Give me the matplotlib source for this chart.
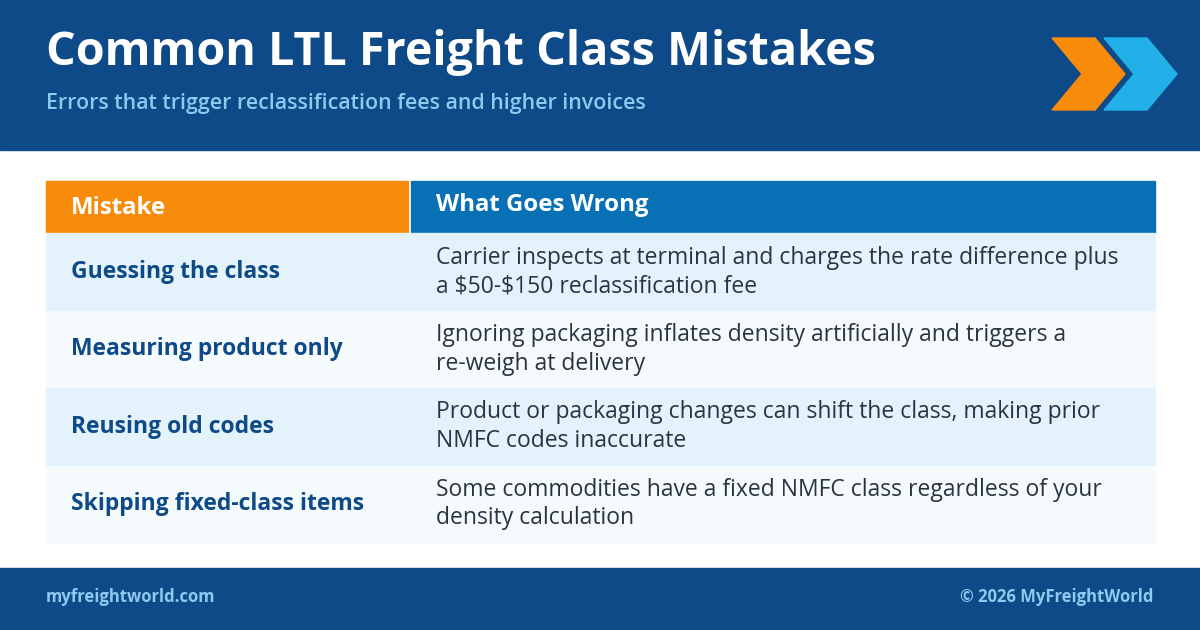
import matplotlib
matplotlib.use("Agg")
import matplotlib.pyplot as plt
from matplotlib.patches import Rectangle, Polygon

plt.rcParams["font.family"] = ["Open Sans", "DejaVu Sans"]
plt.rcParams["text.parse_math"] = False

title = "Common LTL Freight Class Mistakes"
subtitle = "Errors that trigger reclassification fees and higher invoices"
headers = ["Mistake", "What Goes Wrong"]
mistakes = ["Guessing the class", "Measuring product only",
            "Reusing old codes", "Skipping fixed-class items"]
problems = [
    "Carrier inspects at terminal and charges the rate difference plus\na $50-$150 reclassification fee",
    "Ignoring packaging inflates density artificially and triggers a\nre-weigh at delivery",
    "Product or packaging changes can shift the class, making prior\nNMFC codes inaccurate",
    "Some commodities have a fixed NMFC class regardless of your\ndensity calculation",
]
footer_left = "myfreightworld.com"
footer_right = "\u00a9 2026 MyFreightWorld"

NAVY = "#0E4A87"
ORANGE = "#F98B0B"
BLUE = "#0870B4"
SKY = "#22B0E8"
ROW_BG = ["#E3F2FB", "#F5FAFD"]
TXT_NAVY = "#0E4A87"
TXT = "#2A3440"

fig = plt.figure(figsize=(12, 6.3), dpi=100)
ax = fig.add_axes([0, 0, 1, 1])
ax.set_xlim(0, 1200)
ax.set_ylim(630, 0)
ax.axis("off")

# header band
ax.add_patch(Rectangle((0, 0), 1200, 150, color=NAVY))
ax.text(46, 52, title, color="white", fontsize=33.6, fontweight="bold", va="center")
ax.text(46, 104, subtitle, color="#8EC9F0", fontsize=15.4, fontweight="semibold", va="center")
# chevrons
def chevron(x0, color):
    w, h, d = 73, 72, 30
    pts = [(x0, 38), (x0 + w - d, 38), (x0 + w, 38 + h / 2), (x0 + w - d, 38 + h),
           (x0, 38 + h), (x0 + d, 38 + h / 2)]
    ax.add_patch(Polygon(pts, closed=True, color=color))
chevron(1052, ORANGE)
chevron(1104, SKY)

# table header
ax.add_patch(Rectangle((46, 181), 362, 52, color=ORANGE))
ax.add_patch(Rectangle((411, 181), 744, 52, color=BLUE))
ax.text(71, 208, headers[0], color="white", fontsize=17.3, fontweight="bold", va="center")
ax.text(436, 205, headers[1], color="white", fontsize=17.3, fontweight="bold", va="center")

# rows
top, rh = 233, 77.5
for i, (m, p) in enumerate(zip(mistakes, problems)):
    y = top + i * rh
    ax.add_patch(Rectangle((46, y), 1109, rh, color=ROW_BG[i % 2]))
    ax.text(71, y + rh / 2, m, color=TXT_NAVY, fontsize=16.5, fontweight="bold", va="center")
    ax.text(436, y + rh / 2, p, color=TXT, fontsize=16.5, va="center", linespacing=1.25)

# footer
ax.add_patch(Rectangle((0, 568), 1200, 62, color=NAVY))
ax.text(46, 597, footer_left, color="#8EC9F0", fontsize=12, fontweight="bold", va="center")
ax.text(1153, 597, footer_right, color="#8EC9F0", fontsize=12, fontweight="bold",
        va="center", ha="right")

fig.savefig("out.png", dpi=100)
